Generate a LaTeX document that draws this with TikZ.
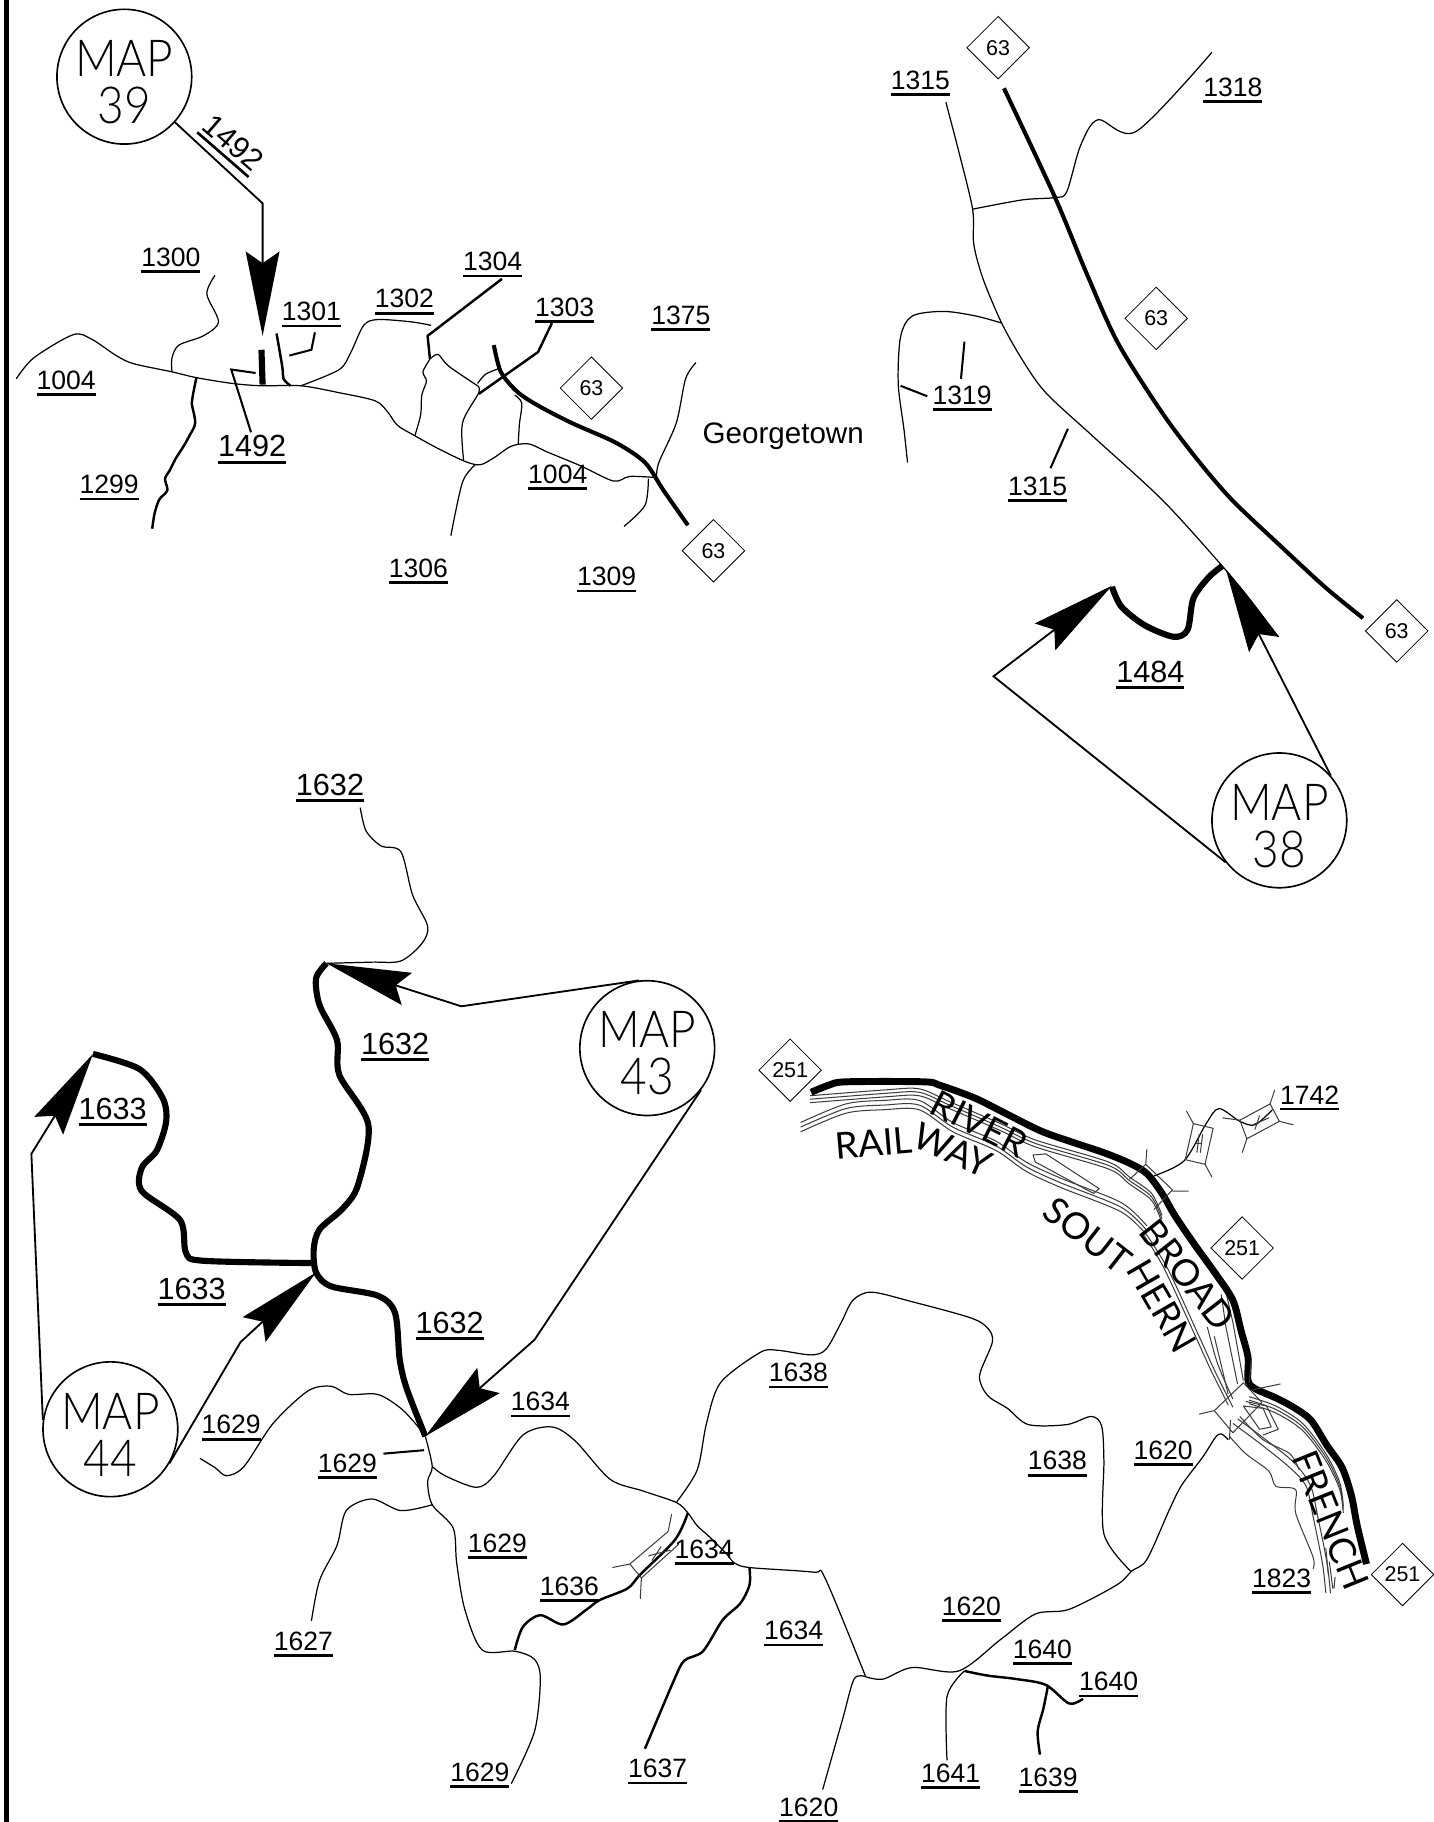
\documentclass[tikz,border=0pt]{standalone}
\usepackage{fontspec}
\setmainfont{Liberation Sans}
\newfontfamily\mapfont[FakeStretch=0.9]{Lato Light}
\newfontfamily\waterfont{Lato}
\usepackage{xcolor}
\usetikzlibrary{shapes.geometric, arrows.meta, positioning, calc}
\definecolor{bankcolor}{RGB}{60, 60, 60}
\newcommand{\rdno}[1]{\vtop{\hbox{#1}\kern1.8pt\hrule height 1.3pt}}
\newcommand{\mapno}[1]{\rule{0pt}{23pt}\makebox[30pt]{MAP}\\#1}

\begin{document}
\begin{tikzpicture}[
    x=0.02cm, y=-0.02cm,
    road/.style={line width=0.6pt, line join=round},
    midroad/.style={line width=1.2pt, line join=round},
    heavyroad/.style={line width=3pt, line join=round},
    highway/.style={line width=2pt, line join=round},
    us/.style={line width=3.4pt, line join=round},
    bank/.style={line width=0.5pt, bankcolor, line join=round},
    leader/.style={line width=1pt},
    pointer/.style={line width=0.9pt, -{Stealth[length=1.45cm, width=0.58cm, inset=0.2cm]}},
    mapcircle/.style={draw, line width=0.8pt, circle, minimum size=2.32cm, inner sep=0pt, align=center, font=\mapfont\fontsize{25}{23}\selectfont},
    shield/.style={draw, line width=0.4pt, diamond, minimum size=1.08cm, inner sep=0pt, font=\fontsize{10.5}{11}\selectfont},
    rdsmall/.style={inner sep=0pt, yshift=-0.5pt, font=\fontsize{13}{13}\selectfont},
    rdbig/.style={inner sep=0pt, yshift=-0.5pt, font=\fontsize{15}{15}\selectfont},
    water/.style={inner sep=0pt, font=\waterfont\fontsize{18}{18}\selectfont}
]
    \useasboundingbox (0,0) rectangle (1234,1568);
    \draw[line width=2.6pt] (5.5,0) -- (5.5,1568);

    % Map 39 area
    \node[mapcircle] (map39) at (107,66) {\mapno{39}};
    \coordinate (bend39) at (226,175);
    \coordinate (tip39) at (226,289);
    \draw[pointer] (map39.-42) -- (bend39) -- (tip39);
    \draw[heavyroad] (225,301) -- (226,331);
    \draw[road] plot[smooth] coordinates {(14,326) (29,308) (63,288) (79,292) (100,306) (115,313) (148,320) (169,325) (200,330) (225,332) (259,332) (292,338) (323,345) (334,355) (342,366) (357,375) (377,386) (400,397) (413,400) (425,394) (440,384) (455,382) (471,389) (500,401) (528,414) (542,410) (565,411)};
    \draw[road] plot[smooth] coordinates {(185,237) (178,253) (188,277) (175,289) (154,297) (148,308) (148,320)};
    \draw[midroad] plot[smooth] coordinates {(169,325) (166,340) (165,347) (168,364) (163,375) (158,384) (151,395) (146,405) (142,412) (144,422) (137,430) (133,442) (131,455)};
    \draw[midroad] plot[smooth] coordinates {(238,287) (243,316) (244,326) (250,332)};
    \draw[leader] (271,286) -- (268,301) -- (249,306);
    \draw[leader] (220,321) -- (199,318) -- (216,372);
    \draw[road] plot[smooth] coordinates {(259,332) (292,318) (302,303) (313,280) (325,275) (354,277) (371,280)};
    \draw[midroad] (432,240) -- (368,289) -- (370,309);
    \draw[road] plot[smooth] coordinates {(370,309) (377,305) (386,315) (411,332)};
    \draw[road] plot[smooth] coordinates {(370,309) (364,320) (367,328) (363,340) (362,357) (357,375)};
    \draw[road] plot[smooth] coordinates {(411,332) (412,338) (398,364) (399,396)};
    \draw[midroad] (475,278) -- (463,303) -- (412,339);
    \draw[road] plot[smooth] coordinates {(411,330) (418,322) (430,317)};
    \draw[road] plot[smooth] coordinates {(443,340) (449,347) (447,365) (446,382)};
    \draw[highway] plot[smooth] coordinates {(425,297) (431,320) (445,337) (463,349) (492,364) (530,381) (555,398) (571,422) (592,452)};
    \draw[road] plot[smooth] coordinates {(409,400) (398,415) (388,461)};
    \draw[road] plot[smooth] coordinates {(558,412) (555,435) (537,453)};
    \draw[road] plot[smooth] coordinates {(599,312) (590,326) (582,364) (567,398) (565,411)};

    \node[shield] (s63a) at (509,334) {63};
    \node[shield] (s63b) at (614,474) {63};
    \node[rdbig, rotate=-41] (r1492a) at (199,124) {\rdno{1492}};
    \node[rdsmall] (r1300) at (147,223) {\rdno{1300}};
    \node[rdsmall] (r1004a) at (57,329) {\rdno{1004}};
    \node[rdsmall] (r1301) at (268,270) {\rdno{1301}};
    \node[rdsmall] (r1302) at (348,259) {\rdno{1302}};
    \node[rdsmall] (r1304) at (424,227) {\rdno{1304}};
    \node[rdsmall] (r1303) at (486,266) {\rdno{1303}};
    \node[rdsmall] (r1375) at (586,273) {\rdno{1375}};
    \node[rdbig] (r1492b) at (217,386) {\rdno{1492}};
    \node[rdsmall] (r1299) at (94,419) {\rdno{1299}};
    \node[rdsmall] (r1306) at (360,491) {\rdno{1306}};
    \node[rdsmall] (r1309) at (522,498) {\rdno{1309}};
    \node[rdsmall] (r1004b) at (480,410) {\rdno{1004}};
    \node[inner sep=0pt, font=\fontsize{14.5}{15}\selectfont] (georgetown) at (674,375) {Georgetown};

    % Map 38 area
    \node[mapcircle] (map38) at (1101,706) {\mapno{38}};
    \coordinate (bend38) at (855,582);
    \coordinate (tip38a) at (957,504);
    \coordinate (tip38b) at (1055,490);
    \draw[pointer] (map38.218) -- (bend38) -- (tip38a);
    \draw[pointer] (map38.41) -- (tip38b);
    \draw[road] plot[smooth] coordinates {(814,88) (825,130) (837,180) (838,210) (846,240) (862,278) (880,310) (900,338) (940,375) (1000,430) (1050,485) (1075,515) (1100,548)};
    \draw[road] plot[smooth] coordinates {(837,180) (880,172) (908,170) (918,165) (930,125) (945,103) (978,113) (1043,45)};
    \draw[road] plot[smooth] coordinates {(862,278) (840,272) (812,268) (785,272) (775,290) (773,330) (778,370) (781,398)};
    \draw[leader] (830,294) -- (827,326);
    \draw[leader] (775,332) -- (798,341);
    \draw[leader] (919,369) -- (904,403);
    \draw[highway] plot[smooth] coordinates {(864,76) (908,170) (935,235) (962,295) (1000,355) (1030,395) (1060,430) (1100,468) (1140,505) (1173,532)};
    \draw[heavyroad] plot[smooth] coordinates {(957,505) (965,522) (985,538) (1010,548) (1022,542) (1027,515) (1040,497) (1052,487)};

    \node[shield] (s63c) at (859,41) {63};
    \node[shield] (s63d) at (995,274) {63};
    \node[shield] (s63e) at (1202,543) {63};
    \node[rdsmall] (r1315a) at (792,71) {\rdno{1315}};
    \node[rdsmall] (r1318) at (1061,77) {\rdno{1318}};
    \node[rdsmall] (r1319) at (828,342) {\rdno{1319}};
    \node[rdsmall] (r1315b) at (893,420) {\rdno{1315}};
    \node[rdbig] (r1484) at (990,580) {\rdno{1484}};

    % Map 43 and 44 area
    \node[mapcircle] (map43) at (557,902) {\mapno{43}};
    \node[mapcircle] (map44) at (95,1230) {\mapno{44}};
    \coordinate (bend43a) at (397,866);
    \coordinate (tip43a) at (281,829);
    \coordinate (bend43b) at (460,1153);
    \coordinate (tip43b) at (366,1236);
    \coordinate (bend44a) at (207,1155);
    \coordinate (tip44a) at (272,1095);
    \coordinate (bend44b) at (27,993);
    \coordinate (tip44b) at (80,907);
    \draw[pointer] (map43.97) -- (bend43a) -- (tip43a);
    \draw[pointer] (map43.-38) -- (bend43b) -- (tip43b);
    \draw[pointer] (map44.-30) -- (bend44a) -- (tip44a);
    \draw[pointer] (map44.172) -- (bend44b) -- (tip44b);
    \draw[road] plot[smooth] coordinates {(310,695) (315,715) (328,728) (345,733) (355,770) (368,797) (363,812) (345,827) (320,828) (281,829)};
    \draw[heavyroad] plot[smooth] coordinates {(281,829) (272,842) (275,865) (290,895) (292,925) (317,968) (308,1020) (295,1040) (275,1058) (270,1075) (272,1095) (285,1107) (325,1115) (340,1130) (344,1170) (350,1195) (366,1236)};
    \draw[heavyroad] plot[smooth] coordinates {(80,907) (120,920) (140,945) (143,965) (135,990) (122,1005) (122,1025) (155,1050) (160,1078) (175,1085) (270,1087)};

    % Lower road network
    \draw[road] plot[smooth] coordinates {(172,1255) (185,1263) (195,1270) (210,1262) (235,1225) (265,1197) (285,1193) (300,1200) (325,1200) (345,1212) (360,1228) (366,1236)};
    \draw[road] plot[smooth] coordinates {(372,1262) (383,1270) (410,1280) (425,1270) (450,1235) (475,1228) (495,1240) (525,1273) (553,1283) (582,1293) (592,1302) (600,1313) (611,1323) (625,1337) (632,1345) (645,1349) (700,1353) (710,1358) (745,1443)};
    \draw[road] plot[smooth] coordinates {(745,1443) (760,1445) (785,1435) (825,1438) (861,1411) (891,1389) (920,1385) (961,1364) (974,1352) (987,1342) (1006,1300) (1017,1278) (1035,1254) (1046,1237) (1051,1234) (1057,1239)};
    \draw[road] plot[smooth] coordinates {(582,1293) (600,1265) (608,1225) (620,1190) (654,1164) (669,1162) (698,1166) (711,1161) (724,1138) (734,1119) (750,1112) (784,1120) (835,1134) (850,1143) (854,1155) (843,1184) (850,1201) (867,1212) (885,1226) (918,1226) (939,1219) (948,1227) (950,1257) (950,1320) (973,1352)};
    \draw[road] plot[smooth] coordinates {(745,1443) (735,1445) (725,1480) (708,1540)};
    \draw[road] plot[smooth] coordinates {(830,1438) (815,1460) (815,1515)};
    \draw[midroad] plot[smooth] coordinates {(830,1438) (850,1442) (875,1445) (900,1450) (920,1466) (932,1462)};
    \draw[midroad] plot[smooth] coordinates {(902,1450) (898,1470) (893,1490) (895,1510)};
    \draw[midroad] plot[smooth] coordinates {(645,1349) (645,1364) (637,1380) (622,1394) (605,1421) (589,1429) (580,1446) (555,1505)};
    \draw[midroad] plot[smooth] coordinates {(443,1420) (450,1400) (465,1390) (485,1398) (505,1385) (516,1377) (540,1367) (551,1355) (581,1325) (592,1302)};
    \draw[road] plot[smooth] coordinates {(366,1236) (372,1262) (368,1275) (372,1295) (390,1315) (393,1345) (400,1385) (415,1420) (443,1421) (460,1428) (465,1445) (460,1490) (440,1535)};
    \draw[road] plot[smooth] coordinates {(372,1295) (345,1300) (320,1290) (298,1300) (290,1330) (275,1360) (268,1395)};
    \draw[leader] (365,1248) -- (330,1251);
    % small bridge
    \draw[bank] (575,1318) -- (542,1346) -- (552,1358) -- (584,1329);
    \draw[bank] (575,1318) -- (578,1303) (542,1346) -- (527,1349) (552,1358) -- (551,1376);
    \draw[bank] (558,1339) -- (577,1334) (561,1343) -- (569,1331);

    % River, railway and US 251
    \foreach \dy in {0,3,6} {
        \draw[bank] plot[smooth] coordinates {(697,943+\dy) (761,938+\dy) (791,937+\dy) (817,948+\dy) (861,967+\dy) (891,981+\dy) (954,1000+\dy) (972,1013+\dy) (991,1027+\dy) (1000,1046+\dy)};
        \draw[bank] plot[smooth] coordinates {(1075,1202+\dy) (1098,1210+\dy) (1121,1225+\dy) (1141,1251+\dy) (1153,1276+\dy) (1156,1296+\dy)};
    }
    \foreach \dy in {0,4,8} {
        \draw[bank] plot[smooth] coordinates {(689,974-\dy) (728,958-\dy) (761,955-\dy) (791,955-\dy) (820,974-\dy) (857,990-\dy) (883,1008-\dy) (913,1022-\dy) (965,1043-\dy) (987,1063-\dy)};
    }
    \draw[bank] plot[smooth] coordinates {(987,1063) (1005,1092) (1031,1148) (1046,1181) (1061,1211)};
    \draw[bank] plot[smooth] coordinates {(983,1061) (1001,1090) (1027,1146) (1042,1179) (1057,1209)};
    \draw[bank] plot[smooth] coordinates {(1039,1142) (1046,1168) (1052,1184) (1061,1204)};
    \draw[bank] (1055,1112) -- (1061,1138) -- (1070,1188);
    \draw[bank] (1051,1114) -- (1055,1142) -- (1065,1191);
    \draw[bank] (1045,1150) -- (1057,1200);
    \foreach \dx in {0,4} {
        \draw[bank] plot[smooth] coordinates {(1061+\dx,1225-\dx) (1084+\dx,1242-\dx) (1110+\dx,1263-\dx) (1124+\dx,1279) (1130+\dx,1305) (1138+\dx,1345) (1141+\dx,1371)};
    }
    \draw[bank] plot[smooth] coordinates {(1058,1236) (1072,1251) (1092,1266) (1098,1279) (1115,1282) (1115,1302) (1130,1340) (1130,1350)};
    \draw[bank] plot[smooth] coordinates {(1067,1219) (1087,1239) (1110,1251) (1118,1265)};
    \draw[bank] (1070,1210) -- (1084,1230) -- (1094,1228) -- (1087,1212) -- cycle;
    \draw[bank] (1072,1206) -- (1090,1210) -- (1100,1230) -- (1087,1235);
    \draw[bank] (1141,1332) -- (1143,1354) (1144,1344) -- (1147,1367) (1149,1357) -- (1148,1367);
    \draw[bank] (889,994) -- (900,993) -- (946,1023) -- (941,1027) -- (891,1000) -- cycle;
    \draw[us] plot[smooth] coordinates {(698,940) (713,934) (728,931) (795,931) (809,934) (839,945) (865,958) (895,973) (920,982) (950,992) (972,1001) (987,1010) (1000,1027) (1011,1046) (1028,1071) (1046,1096) (1061,1119) (1068,1145) (1074,1168) (1074,1188) (1080,1195) (1098,1203) (1113,1211) (1128,1222) (1142,1244) (1155,1263) (1163,1287) (1168,1313) (1176,1346)};

    % Bridges on 1742
    \draw[road] plot[smooth] coordinates {(993,1012) (1019,999) (1038,967) (1049,954) (1067,965) (1080,968) (1095,955)};
    \draw[bank] (986,1002) -- (1009,1024) -- (993,1041) (986,1002) -- (972,1015);
    \draw[bank] (986,1002) -- (987,989) (1009,1025) -- (1023,1025);
    \draw[bank] (1027,967) -- (1044,971) -- (1037,1002) -- (1020,998) -- cycle;
    \draw[bank] (1027,967) -- (1021,956) (1037,1002) -- (1043,1013) (1029,984) -- (1034,984) (1032,976) -- (1030,992) (1035,976) -- (1033,992);
    \draw[bank] (1067,964) -- (1093,950) -- (1101,965) -- (1073,980) -- cycle;
    \draw[bank] (1093,950) -- (1097,938) (1101,965) -- (1113,968) (1073,980) -- (1069,992) (1052,962) -- (1067,964) (1078,968) -- (1092,962) (1084,960) -- (1080,972);
    % Bridge at the lower junction
    \draw[bank] (1032,1217) -- (1045,1214) -- (1070,1190) (1078,1196) -- (1102,1191) (1077,1169) -- (1075,1190);
    \draw[bank] (1058,1239) -- (1059,1222) (1045,1214) -- (1061,1233) -- (1086,1207) (1070,1190) -- (1086,1207);

    \node[water, rotate=-27] (river) at (843,967) {RIVER};
    \node[water, rotate=5] (rail) at (752,984) {RAIL};
    \node[water, rotate=-24] (way) at (820,990) {WAY};
    \node[water, rotate=-38] (south) at (936,1063) {SOUT};
    \node[water, rotate=-60] (hern) at (1000,1124) {HERN};
    \node[water, rotate=-52] (broad) at (1022,1097) {BROAD};
    \node[water, rotate=-68] (french) at (1145,1308) {FRENCH};

    \node[shield] (s251a) at (680,921) {251};
    \node[shield] (s251b) at (1069,1074) {251};
    \node[shield] (s251c) at (1207,1355) {251};

    % Road numbers, lower half
    \node[rdbig] (r1632a) at (284,677) {\rdno{1632}};
    \node[rdbig] (r1632b) at (340,900) {\rdno{1632}};
    \node[rdbig] (r1633a) at (97,956) {\rdno{1633}};
    \node[rdbig] (r1633b) at (165,1111) {\rdno{1633}};
    \node[rdbig] (r1632c) at (387,1140) {\rdno{1632}};
    \node[rdsmall] (r1629a) at (199,1228) {\rdno{1629}};
    \node[rdsmall] (r1634a) at (465,1208) {\rdno{1634}};
    \node[rdsmall] (r1629b) at (299,1261) {\rdno{1629}};
    \node[rdsmall] (r1638a) at (687,1183) {\rdno{1638}};
    \node[rdsmall] (r1638b) at (910,1259) {\rdno{1638}};
    \node[rdsmall] (r1620a) at (1001,1250) {\rdno{1620}};
    \node[rdsmall] (r1629c) at (428,1330) {\rdno{1629}};
    \node[rdsmall] (r1634b) at (606,1335) {\rdno{1634}};
    \node[rdsmall] (r1636) at (490,1367) {\rdno{1636}};
    \node[rdsmall] (r1627) at (261,1414) {\rdno{1627}};
    \node[rdsmall] (r1620b) at (836,1384) {\rdno{1620}};
    \node[rdsmall] (r1634c) at (683,1405) {\rdno{1634}};
    \node[rdsmall] (r1640a) at (897,1421) {\rdno{1640}};
    \node[rdsmall] (r1640b) at (954,1449) {\rdno{1640}};
    \node[rdsmall] (r1823) at (1103,1360) {\rdno{1823}};
    \node[rdsmall] (r1629d) at (413,1527) {\rdno{1629}};
    \node[rdsmall] (r1637) at (566,1524) {\rdno{1637}};
    \node[rdsmall] (r1641) at (818,1528) {\rdno{1641}};
    \node[rdsmall] (r1639) at (902,1531) {\rdno{1639}};
    \node[rdsmall] (r1620c) at (696,1557) {\rdno{1620}};
    \node[rdsmall] (r1742) at (1127,944) {\rdno{1742}};
\end{tikzpicture}
\end{document}
